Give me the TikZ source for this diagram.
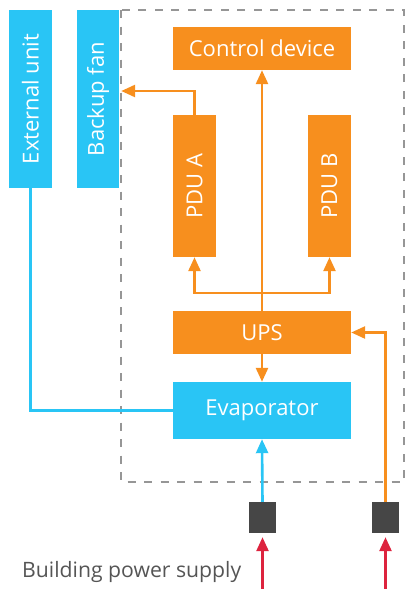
\documentclass[tikz,border=0pt]{standalone}
\usepackage{fontspec}
\setmainfont{Open Sans}
\usetikzlibrary{arrows.meta}
\definecolor{orng}{RGB}{247,143,30}
\definecolor{sky}{RGB}{41,197,245}
\definecolor{dashgray}{RGB}{150,150,150}
\definecolor{sq}{RGB}{70,70,70}
\definecolor{rd}{RGB}{221,35,62}
\definecolor{txtgray}{RGB}{85,85,85}
\begin{document}
\begin{tikzpicture}[x=1pt,y=-1pt,
  box/.style={draw=none, inner sep=0pt, text=white, font=\fontsize{22}{25}\selectfont},
  obox/.style={box, fill=orng},
  bbox/.style={box, fill=sky},
  oline/.style={draw=orng, line width=2.6pt},
  bline/.style={draw=sky, line width=2.6pt},
  rline/.style={draw=rd, line width=2.6pt},
  tip/.style={-{Triangle[length=14pt,width=12pt]}},
  sqbox/.style={fill=sq, minimum width=27pt, minimum height=31pt, inner sep=0pt}]
\useasboundingbox (0,0) rectangle (406,589);
\draw[dashgray, line width=2.4pt, dash pattern=on 8pt off 8.5pt] (121,10) rectangle (404,482);
\node[bbox, minimum width=43pt, minimum height=178pt] (ext) at (30.5,99) {\rotatebox{90}{External unit}};
\node[bbox, minimum width=42pt, minimum height=178pt] (fan) at (98,99) {\rotatebox{90}{Backup fan}};
\node[obox, minimum width=178pt, minimum height=43pt] (ctrl) at (262,48.5) {Control device};
\node[obox, minimum width=43pt, minimum height=142pt] (pdua) at (194.5,186) {\rotatebox{90}{PDU A}};
\node[obox, minimum width=43pt, minimum height=142pt] (pdub) at (329.5,186) {\rotatebox{90}{PDU B}};
\node[obox, minimum width=178pt, minimum height=43pt] (ups) at (262,332.5) {UPS};
\node[bbox, minimum width=178pt, minimum height=57pt] (evap) at (262,410.5) {Evaporator};
\node[sqbox] (s1) at (262.5,517.5) {};
\node[sqbox] (s2) at (385.5,517.5) {};
\node[text=txtgray, anchor=base west, inner sep=0pt, font=\fontsize{21.2}{24}\selectfont] (bps) at (22,577) {Building power supply};
\coordinate (r1) at (262.5,589);
\coordinate (r2) at (385.5,589);
\coordinate (br) at (262,293);
\draw[rline,tip] (r1) -- ([yshift=-4pt]s1.south);
\draw[rline,tip] (r2) -- ([yshift=-4pt]s2.south);
\draw[bline,tip] (s1.north) -- (evap.south);
\draw[oline,tip] (s2.north) |- (ups.east);
\draw[oline,tip] (ups.south) -- (evap.north);
\draw[oline,tip] (ups.north) -- (ctrl.south);
\draw[oline,tip] (br) -| (pdua.south);
\draw[oline,tip] (br) -| (pdub.south);
\draw[oline,tip] (pdua.north) |- ([xshift=2pt,yshift=8pt]fan.east);
\draw[bline] (ext.south) |- (evap.west);
\end{tikzpicture}
\end{document}
